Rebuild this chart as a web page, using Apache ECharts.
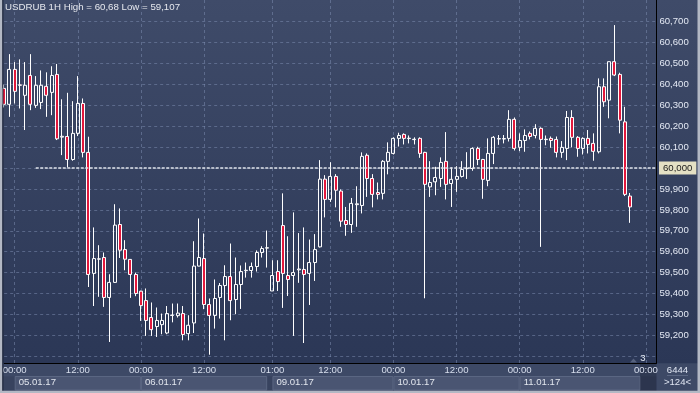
<!DOCTYPE html>
<html><head><meta charset="utf-8">
<script src="https://cdn.jsdelivr.net/npm/echarts@6/dist/echarts.min.js"></script>
<style>html,body{margin:0;padding:0;background:#2e3a58;}#c{width:700px;height:393px;}</style>
</head><body><div id="c"></div>
<script>
// ---- data (USDRUB, 1H candles) ----
const daySpecs = [
  ['04.01.17', [22, 23]],
  ['05.01.17', [0, 23]],
  ['06.01.17', [0, 23]],
  ['09.01.17', [0, 23]],
  ['10.01.17', [0, 23]],
  ['11.01.17', [0, 23]],
  ['12.01.17', [0, 2]]
];
const categories = [];
daySpecs.forEach(([d, [a, b]]) => { for (let h = a; h <= b; h++) categories.push(d + ' ' + String(h).padStart(2, '0') + ':00'); });

const openVals = [60.381,60.305,60.472,60.398,60.348,60.443,60.300,60.314,60.391,60.362,
60.448,60.148,60.151,60.041,60.166,60.309,60.075,59.496,59.564,59.572,
59.381,59.453,59.730,59.610,59.563,59.491,59.411,59.366,59.285,59.242,
59.251,59.211,59.295,59.294,59.304,59.208,59.259,59.531,59.567,59.347,
59.295,59.381,59.438,59.481,59.371,59.443,59.509,59.510,59.529,59.596,
59.617,59.412,59.505,59.725,59.486,59.486,59.513,59.515,59.496,59.548,
59.623,59.947,59.850,59.960,59.890,59.749,59.730,59.825,59.821,60.061,
59.950,59.883,59.879,60.032,60.070,60.142,60.161,60.141,60.136,60.142,
60.075,59.910,59.934,59.950,60.032,59.926,59.946,59.960,59.997,59.998,
60.094,60.041,59.941,60.070,60.139,60.139,60.142,60.233,60.099,60.132,
60.166,60.156,60.190,60.136,60.142,60.137,60.075,60.094,60.242,60.147,
60.094,60.142,60.118,60.078,60.389,60.325,60.509,60.448,60.221,59.866];
const closeVals = [60.305,60.472,60.367,60.396,60.396,60.305,60.396,60.396,60.348,60.443,
60.140,60.152,60.041,60.166,60.309,60.075,59.491,59.567,59.566,59.381,
59.453,59.727,59.607,59.564,59.491,59.400,59.342,59.271,59.227,59.271,
59.271,59.304,59.297,59.306,59.204,59.248,59.531,59.572,59.347,59.295,
59.376,59.438,59.481,59.366,59.443,59.505,59.511,59.529,59.596,59.615,
59.619,59.486,59.457,59.496,59.467,59.500,59.517,59.491,59.548,59.610,
59.947,59.850,59.960,59.894,59.746,59.730,59.831,59.829,60.056,59.950,
59.874,59.874,60.032,60.075,60.142,60.156,60.142,60.143,60.138,60.070,
59.922,59.931,59.955,60.027,59.922,59.946,59.960,59.993,59.999,60.094,
60.041,59.946,60.070,60.147,60.141,60.141,60.233,60.094,60.132,60.156,
60.151,60.190,60.137,60.138,60.132,60.075,60.099,60.242,60.147,60.094,
60.142,60.113,60.080,60.389,60.317,60.509,60.445,60.229,59.874,59.814];
const lowVals = [60.290,60.245,60.309,60.285,60.182,60.277,60.288,60.282,60.245,60.253,
60.134,60.062,60.003,60.035,60.153,60.051,59.431,59.340,59.384,59.336,
59.168,59.450,59.570,59.511,59.379,59.387,59.269,59.197,59.197,59.192,
59.205,59.205,59.262,59.285,59.176,59.176,59.211,59.530,59.325,59.107,
59.232,59.280,59.176,59.272,59.301,59.326,59.476,59.476,59.505,59.572,
59.524,59.412,59.412,59.331,59.388,59.197,59.451,59.163,59.345,59.460,
59.620,59.764,59.838,59.812,59.719,59.676,59.690,59.719,59.783,59.862,
59.812,59.850,59.850,59.970,60.065,60.103,60.113,60.118,60.113,60.049,
59.377,59.862,59.870,59.910,59.850,59.814,59.886,59.955,59.948,59.987,
60.014,59.853,59.913,60.019,60.111,60.118,60.127,60.084,60.081,60.078,
60.137,60.142,59.623,60.109,60.097,60.051,60.049,60.038,60.099,60.054,
60.065,60.070,60.035,60.070,60.293,60.238,60.440,60.166,59.866,59.738];
const highVals = [60.400,60.545,60.507,60.520,60.507,60.545,60.440,60.467,60.458,60.487,
60.498,60.329,60.360,60.320,60.440,60.333,60.150,59.716,59.631,59.596,
59.492,59.827,59.807,59.655,59.565,59.500,59.413,59.424,59.357,59.333,
59.304,59.340,59.352,59.352,59.340,59.296,59.650,59.759,59.687,59.376,
59.467,59.450,59.535,59.639,59.572,59.534,59.548,59.548,59.606,59.626,
59.701,59.559,59.559,59.879,59.674,59.788,59.689,59.716,59.658,59.684,
60.038,59.966,60.028,59.971,59.898,59.814,59.857,59.913,60.075,60.070,
59.971,59.931,60.038,60.123,60.147,60.169,60.166,60.156,60.147,60.147,
60.078,60.033,60.006,60.051,60.172,60.003,60.009,60.033,60.076,60.099,
60.102,60.044,60.142,60.153,60.158,60.158,60.277,60.242,60.166,60.185,
60.175,60.210,60.195,60.156,60.151,60.151,60.129,60.273,60.277,60.153,
60.147,60.182,60.166,60.429,60.429,60.509,60.684,60.456,60.293,59.881];

const yLabelValues = [59.2,59.3,59.4,59.5,59.6,59.7,59.8,59.9,60.0,60.1,60.2,60.3,60.4,60.5,60.6,60.7];
const yGridValues = [59.1,59.2,59.3,59.4,59.5,59.6,59.7,59.8,59.9,60.0,60.1,60.2,60.3,60.4,60.5,60.6,60.7];
const timeTickIndex = [2,14,26,38,51,62,74,86,98,110,122];
const dateTickIndex = [2,26,51,74,98];
const dateSpans = [[2,26],[26,50],[51,74],[74,98],[98,121]];
const levelLine = { from: 6, value: 60.000, label: '60,000' };
const titleText = 'USDRUB 1H High = 60,68 Low = 59,107';

// ---- chart ----
const FONT = 'Liberation Sans, Arial, sans-serif';
const fmt = v => v.toFixed(3).replace('.', ',');
const timeSet = new Set(timeTickIndex), dateSet = new Set(dateTickIndex);
const candles = openVals.map((o, i) => [o, closeVals[i], lowVals[i], highVals[i]]);
const lastIdx = candles.length - 1;
const lastClose = closeVals[lastIdx];
const gridLine = { color: 'rgba(128,144,180,0.5)', type: [3, 3], width: 1 };

const chart = echarts.init(document.getElementById('c'), null, { renderer: 'canvas' });
chart.setOption({
  animation: false,
  backgroundColor: 'transparent',
  title: { text: titleText, left: 5, top: 2, padding: 0,
    textStyle: { fontSize: 9.7, fontWeight: 'normal', color: '#e6e8ee', fontFamily: FONT } },
  grid: { left: 4.18, right: 43.6, top: 0, bottom: 29.7, outerBoundsMode: 'none', containLabel: false },
  xAxis: [{
    type: 'category', data: categories, boundaryGap: false,
    axisLine: { show: true, lineStyle: { color: '#000', width: 1 } },
    axisTick: { show: false },
    axisLabel: { interval: i => timeSet.has(i), formatter: v => v.slice(9), color: '#d8dfee',
      fontSize: 9.6, fontFamily: FONT, margin: 2.5 },
    splitLine: { show: true, interval: i => timeSet.has(i), lineStyle: gridLine }
  }, {
    type: 'category', data: categories, boundaryGap: false, position: 'bottom', offset: 12,
    axisLine: { show: false }, axisTick: { show: false }, splitLine: { show: false },
    axisLabel: { interval: i => dateSet.has(i), formatter: v => v.slice(0, 8), align: 'left',
      padding: [0, 0, 0, 4], color: '#e2e6ee', fontSize: 9.6, fontFamily: FONT, margin: 2.5 }
  }],
  yAxis: {
    type: 'value', position: 'right', min: 59.066, max: 60.804,
    axisLine: { show: true, onZero: false, lineStyle: { color: '#000', width: 1 } },
    axisTick: { show: false, customValues: yGridValues },
    axisLabel: { customValues: yLabelValues, formatter: fmt, color: '#e4e9f4', fontSize: 9.6,
      fontFamily: FONT, margin: 3 },
    splitLine: { show: true, lineStyle: gridLine }
  },
  series: [{
    type: 'candlestick', xAxisIndex: 0, data: candles, barWidth: 3.5,
    itemStyle: { color: 'rgba(0,0,0,0)', color0: '#e2183c', borderColor: '#ffffff',
      borderColor0: '#ffffff', borderColorDoji: '#ffffff', borderWidth: 1 },
    markLine: {
      silent: true, symbol: ['none', 'none'], animation: false,
      data: [
        [{ coord: [categories[levelLine.from], levelLine.value],
           lineStyle: { color: '#dfe3ea', type: [3, 1.5], width: 1.6 },
           label: { show: true, position: 'end', formatter: levelLine.label, distance: 2.6,
             backgroundColor: '#e4e0c4', color: '#1a1a1a', padding: [2, 4, 1, 4],
             fontSize: 9.6, fontFamily: FONT } },
         { coord: [categories[categories.length - 1], levelLine.value] }],
        [{ coord: [categories[lastIdx], lastClose], lineStyle: { opacity: 0 },
           label: { show: true, position: 'end', formatter: fmt(lastClose), distance: 2.6,
             backgroundColor: '#c9ceda', color: '#1a1a1a', padding: [2, 4, 1, 4],
             fontSize: 9.6, fontFamily: FONT } },
         { coord: [categories[categories.length - 1], lastClose] }]
      ]
    }
  }]
});

const px = i => chart.convertToPixel({ xAxisIndex: 0 }, categories[i]);
const bottomY = 363.3;
const els = [
  { type: 'rect', z: -100, silent: true, shape: { x: 3, y: 0, width: 695, height: bottomY },
    style: { fill: new echarts.graphic.LinearGradient(0, 0, 0, 1, [
      { offset: 0, color: '#3f4b69' }, { offset: 1, color: '#2b3756' }]) } },
  { type: 'rect', z: -100, silent: true, shape: { x: 3, y: bottomY, width: 695, height: 28 },
    style: { fill: '#3d4966' } },
  { type: 'rect', z: -99, silent: true, shape: { x: 3, y: 376.5, width: 653.4, height: 14 },
    style: { fill: '#38435f' } }
];
dateSpans.forEach(([a, b]) => {
  const x0 = px(a), x1 = px(b);
  els.push({ type: 'rect', z: -98, silent: true,
    shape: { x: x0 + 0.5, y: 376.5, width: x1 - x0 - 1, height: 13.5 },
    style: { fill: '#4a5572', stroke: '#5a6682', lineWidth: 1 } });
});
els.push(
  { type: 'rect', z: -97, silent: true, shape: { x: px(121) - 0.5, y: bottomY + 0.5, width: 656.4 - px(121) + 0.5, height: 27 },
    style: { fill: 'rgba(30,38,58,0.45)' } },
  { type: 'polygon', z: 50, silent: true, shape: { points: [[630, 362.5], [637, 362.5], [633.5, 358.5]] },
    style: { fill: '#56627e' } },
  { type: 'text', z: 50, silent: true, style: { x: 643, y: 358.7, text: '3', fill: '#e6ebf4',
    font: '9.6px ' + FONT, align: 'center', verticalAlign: 'middle' } },
  { type: 'text', z: 50, silent: true, style: { x: 677.5, y: 370.7, text: '6444', fill: '#dfe5f2',
    font: '9.6px ' + FONT, align: 'center', verticalAlign: 'middle' } },
  { type: 'line', z: 50, silent: true, shape: { x1: 667, y1: 375.5, x2: 688, y2: 375.5 },
    style: { stroke: '#5a6682', lineWidth: 1 } },
  { type: 'text', z: 50, silent: true, style: { x: 677.5, y: 382.5, text: '>124<', fill: '#dfe5f2',
    font: '9.6px ' + FONT, align: 'center', verticalAlign: 'middle' } },
  { type: 'rect', z: 100, silent: true, shape: { x: 0, y: 0, width: 2.4, height: 393 }, style: { fill: '#b3b8c4' } },
  { type: 'rect', z: 100, silent: true, shape: { x: 2.4, y: 0, width: 1, height: 391 }, style: { fill: '#1d2438' } },
  { type: 'rect', z: 100, silent: true, shape: { x: 697.5, y: 0, width: 2.5, height: 393 }, style: { fill: '#b3b8c4' } },
  { type: 'rect', z: 100, silent: true, shape: { x: 0, y: 390.7, width: 700, height: 2.3 }, style: { fill: '#b3b8c4' } }
);
chart.setOption({ graphic: { elements: els } });
</script>
</body></html>
